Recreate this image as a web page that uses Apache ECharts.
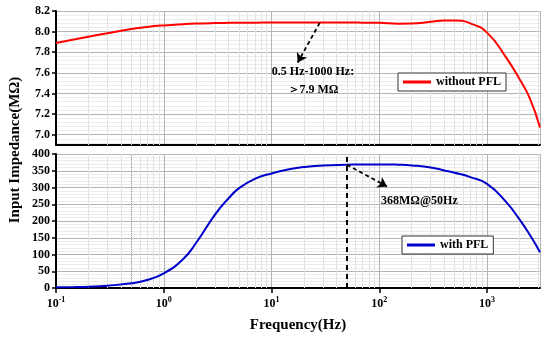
<!DOCTYPE html>
<html>
<head>
<meta charset="utf-8">
<script src="https://cdn.jsdelivr.net/npm/echarts@6/dist/echarts.min.js"></script>
<style>html,body{margin:0;padding:0;background:#fff}#c{width:550px;height:338px}</style>
</head>
<body>
<div id="c"></div>
<script>
// ---- data ----
var freqs = [0.1, 0.15, 0.2, 0.3, 0.5, 0.7, 1, 1.5, 2, 3, 4, 5, 7, 10, 15, 20, 30, 50, 70, 100, 150, 200, 300, 400, 500, 700, 1000, 1500, 2000, 2500, 3100];
var withoutPFL = [7.89, 7.925, 7.95, 7.985, 8.025, 8.045, 8.06, 8.072, 8.078, 8.083, 8.085, 8.086, 8.087, 8.088, 8.088, 8.088, 8.088, 8.088, 8.087, 8.085, 8.077, 8.078, 8.095, 8.108, 8.108, 8.08, 7.99, 7.75, 7.54, 7.35, 7.07];
var withPFL = [2, 3, 4, 7, 14, 24, 44, 85, 135, 220, 268, 298, 326, 342, 355, 361, 366, 368, 369, 369, 368, 366, 360, 351, 344, 331, 311, 257, 205, 158, 107];
var minorFreqs = [0.2,0.3,0.4,0.5,0.6,0.7,0.8,0.9,2,3,4,5,6,7,8,9,20,30,40,50,60,70,80,90,200,300,400,500,600,700,800,900,2000,3000];
var arrowTop = [[28, 8.085], [17.5, 7.70]];
var arrowBottom = [[50, 368], [118, 303]];
var markFreq = 50;
var refFreq = 0.5;

function pairs(xs, ys){ return xs.map(function(x,i){ return [x, ys[i]]; }); }

var FONT = 'Liberation Serif';
var chart = echarts.init(document.getElementById('c'), null, {renderer:'canvas'});

function xAxisCommon(idx, showLabels){
  return {
    type:'log', gridIndex: idx, min:0.1, max:3100, logBase:10,
    axisLine:{show:true, onZero:false, lineStyle:{color:'#000', width:2}},
    axisTick:{show:showLabels, inside:false, length:5, lineStyle:{color:'#000', width:1.5}},
    minorTick:{show:false},
    axisLabel:{show:showLabels, fontFamily:FONT, fontWeight:'bold', fontSize:12, color:'#000', margin:8,
      showMaxLabel:false,
      formatter:function(v){ var e=Math.round(Math.log10(v)); return '10{s|'+e+'}'; },
      rich:{s:{fontSize:8, fontFamily:FONT, fontWeight:'bold', color:'#000', padding:[0,0,7,0]}}},
    splitLine:{show:true, lineStyle:{color:'#b4b4b4', width:1}},
    name: showLabels ? 'Frequency(Hz)' : '',
    nameLocation:'middle', nameGap:30,
    nameTextStyle:{fontFamily:FONT, fontWeight:'bold', fontSize:15, color:'#000'}
  };
}

function minorLines(){ return minorFreqs.map(function(f){ return {xAxis:f}; }); }

var option = {
  animation:false,
  backgroundColor:'#fff',
  grid:[
    {left:56, top:11, width:484, height:134},
    {left:56, top:154, width:484, height:134}
  ],
  xAxis:[xAxisCommon(0,false), xAxisCommon(1,true)],
  yAxis:[
    {type:'value', gridIndex:0, min:6.9, max:8.2, splitNumber:6,
     axisLine:{show:true, lineStyle:{color:'#000', width:2}},
     axisTick:{show:true, length:4, lineStyle:{color:'#000', width:1.5}},
     axisLabel:{fontFamily:FONT, fontWeight:'bold', fontSize:12, color:'#000', margin:6, showMinLabel:false,
       formatter:function(v){ return v.toFixed(1); }},
     splitLine:{show:true, lineStyle:{color:'#b4b4b4', width:1}},
     minorTick:{show:false, splitNumber:5},
     minorSplitLine:{show:true, lineStyle:{color:'#ececec', width:1}}},
    {type:'value', gridIndex:1, min:0, max:400, interval:50,
     axisLine:{show:true, lineStyle:{color:'#000', width:2}},
     axisTick:{show:true, length:4, lineStyle:{color:'#000', width:1.5}},
     axisLabel:{fontFamily:FONT, fontWeight:'bold', fontSize:12, color:'#000', margin:6},
     splitLine:{show:true, lineStyle:{color:'#b4b4b4', width:1}},
     minorTick:{show:false, splitNumber:5},
     minorSplitLine:{show:true, lineStyle:{color:'#ececec', width:1}}}
  ],
  legend:[
    {data:['without PFL'], left:398, top:73, z:50, orient:'horizontal', icon:'rect', itemWidth:28, itemHeight:3,
     borderColor:'#333', borderWidth:1, padding:[3,5,3,5], backgroundColor:'#fff',
     textStyle:{fontFamily:FONT, fontWeight:'bold', fontSize:12, color:'#000'}},
    {data:['with PFL'], left:402, top:236, z:50, orient:'horizontal', icon:'rect', itemWidth:28, itemHeight:3,
     borderColor:'#333', borderWidth:1, padding:[3,5,3,5], backgroundColor:'#fff',
     textStyle:{fontFamily:FONT, fontWeight:'bold', fontSize:12, color:'#000'}}
  ],
  series:[
    {name:'minorTop', type:'line', xAxisIndex:0, yAxisIndex:0, data:[], silent:true, z:1,
     markLine:{silent:true, z:1, symbol:'none', label:{show:false}, lineStyle:{color:'#e2e2e2', type:'solid', width:1}, data:minorLines()}},
    {name:'minorBottom', type:'line', xAxisIndex:1, yAxisIndex:1, data:[], silent:true, z:1,
     markLine:{silent:true, z:1, symbol:'none', label:{show:false}, lineStyle:{color:'#e2e2e2', type:'solid', width:1}, data:minorLines()}},
    {name:'refLine', type:'line', xAxisIndex:1, yAxisIndex:1, data:[], silent:true, z:2,
     markLine:{silent:true, z:2, symbol:'none', label:{show:false}, lineStyle:{color:'#999', type:'dotted', width:1},
       data:[{xAxis:refFreq}]}},
    {name:'markLine50', type:'line', xAxisIndex:1, yAxisIndex:1, data:[], silent:true, z:3,
     markLine:{silent:true, z:3, symbol:'none', label:{show:false}, lineStyle:{color:'#000', type:[5,4], width:2},
       data:[{xAxis:markFreq}]}},
    {name:'without PFL', type:'line', xAxisIndex:0, yAxisIndex:0, smooth:true, showSymbol:false, z:4,
     lineStyle:{color:'#ff0000', width:2, type:'solid'}, itemStyle:{color:'#ff0000'},
     data:pairs(freqs, withoutPFL)},
    {name:'with PFL', type:'line', xAxisIndex:1, yAxisIndex:1, smooth:true, showSymbol:false, z:4,
     lineStyle:{color:'#0000cc', width:2, type:'solid'}, itemStyle:{color:'#0000cc'},
     data:pairs(freqs, withPFL)},
    {name:'arrowTop', type:'line', xAxisIndex:0, yAxisIndex:0, data:[], silent:true, z:5,
     markLine:{silent:true, z:5, symbol:['none','arrow'], symbolSize:9, label:{show:false},
       lineStyle:{color:'#000', type:[4,3], width:1.8},
       data:[[{coord:arrowTop[0]},{coord:arrowTop[1]}]]}},
    {name:'arrowBottom', type:'line', xAxisIndex:1, yAxisIndex:1, data:[], silent:true, z:5,
     markLine:{silent:true, z:5, symbol:['none','arrow'], symbolSize:9, label:{show:false},
       lineStyle:{color:'#000', type:[4,3], width:1.8},
       data:[[{coord:arrowBottom[0]},{coord:arrowBottom[1]}]]}}
  ],
  graphic:[
    {type:'text', x:15, y:150, rotation:Math.PI/2, z:100,
     style:{text:'Input Impedance(MΩ)', font:'bold 15px "Liberation Serif"', fill:'#000', align:'center', verticalAlign:'middle'}},
    {type:'text', x:313, y:72, z:100,
     style:{text:'0.5 Hz-1000 Hz:', font:'bold 12px "Liberation Serif"', fill:'#000', align:'center', verticalAlign:'middle'}},
    {type:'text', x:313, y:90, z:100,
     style:{text:'＞7.9 MΩ', font:'bold 12px "Liberation Serif"', fill:'#000', align:'center', verticalAlign:'middle'}},
    {type:'text', x:381, y:201, z:100,
     style:{text:'368MΩ@50Hz', font:'bold 12px "Liberation Serif"', fill:'#000', align:'left', verticalAlign:'middle'}}
  ]
};
chart.setOption(option);
</script>
</body>
</html>
